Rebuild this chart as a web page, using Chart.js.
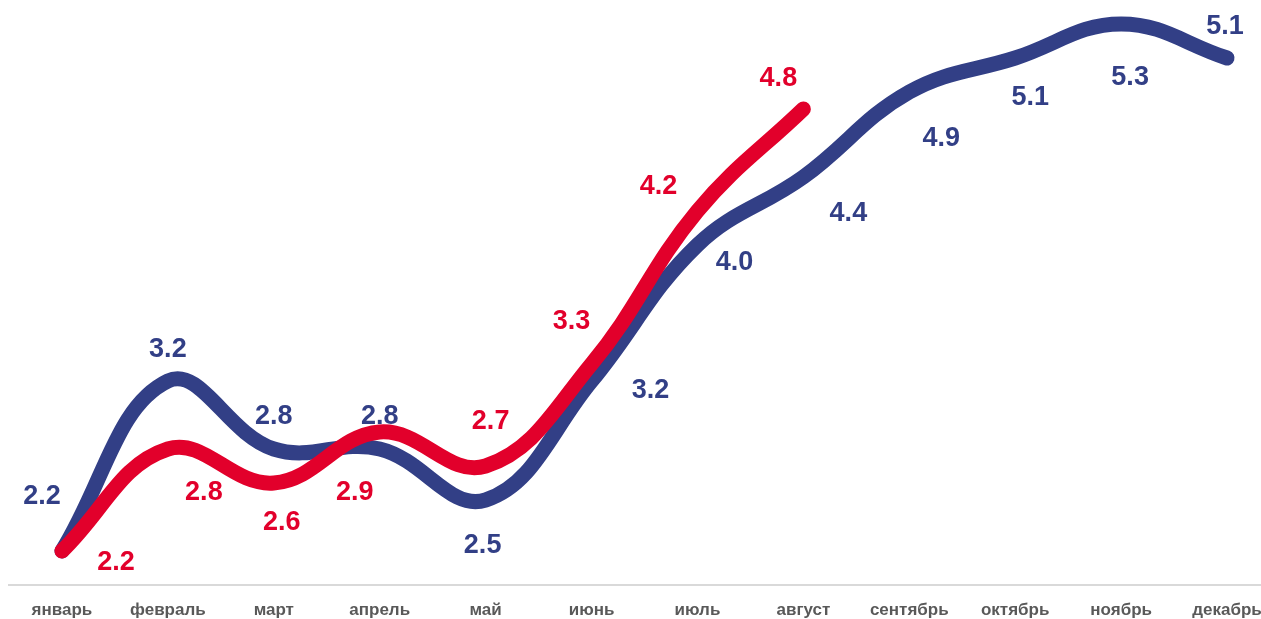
<!DOCTYPE html>
<html>
<head>
<meta charset="utf-8">
<script src="https://cdn.jsdelivr.net/npm/chart.js@4"></script>
<style>
  html, body { margin: 0; padding: 0; background: #fff; overflow: hidden; }
  #wrap { width: 1280px; height: 619px; position: relative; }
</style>
</head>
<body>
<div id="wrap"><canvas id="chart"></canvas></div>
<script>
const months = ["январь", "февраль", "март", "апрель", "май", "июнь", "июль", "август", "сентябрь", "октябрь", "ноябрь", "декабрь"];
const blueValues = [2.2, 3.2, 2.8, 2.8, 2.5, 3.2, 4.0, 4.4, 4.9, 5.1, 5.3, 5.1];
const redValues = [2.2, 2.8, 2.6, 2.9, 2.7, 3.3, 4.2, 4.8];

// where each value label sits relative to its point (px)
const blueLabelShift = [[-20, -54], [0, -31], [0, -32], [0, -32], [-3, 46], [59, 10], [37, 18], [45, 37], [32, 47], [15, 40], [9, 54], [-2, -31]];
const redLabelShift = [[54, 12], [36, 44], [8, 40], [-25, 61], [5, -44], [-20, -42], [-39, -24], [-25, -30]];

const BLUE = "#323F86";
const RED = "#E2002B";

const valueLabels = {
  id: "valueLabels",
  afterDatasetsDraw(chart) {
    const ctx = chart.ctx;
    ctx.save();
    ctx.font = "bold 27px 'Liberation Sans', Arial, sans-serif";
    ctx.textAlign = "center";
    ctx.textBaseline = "middle";
    chart.data.datasets.forEach((ds, i) => {
      const meta = chart.getDatasetMeta(i);
      ctx.fillStyle = ds.borderColor;
      meta.data.forEach((pt, j) => {
        const s = ds.labelShift[j];
        ctx.fillText(ds.data[j].toFixed(1), pt.x + s[0], pt.y + s[1]);
      });
    });
    ctx.restore();
  }
};

new Chart(document.getElementById("chart"), {
  type: "line",
  data: {
    labels: months,
    datasets: [
      {
        label: "red",
        data: redValues,
        borderColor: RED,
        labelShift: redLabelShift,
        borderWidth: 15,
        borderCapStyle: "round",
        borderJoinStyle: "round",
        pointRadius: 0,
        tension: 0.4,
        fill: false
      },
      {
        label: "blue",
        data: blueValues,
        borderColor: BLUE,
        labelShift: blueLabelShift,
        borderWidth: 15,
        borderCapStyle: "round",
        borderJoinStyle: "round",
        pointRadius: 0,
        tension: 0.4,
        fill: false
      }
    ]
  },
  options: {
    responsive: true,
    maintainAspectRatio: false,
    animation: false,
    layout: { padding: { left: 9, right: 0, top: 7, bottom: 0 } },
    plugins: { legend: { display: false }, tooltip: { enabled: false } },
    scales: {
      x: {
        offset: true,
        grid: { display: false, drawTicks: false },
        border: { display: true, color: "#D9D9D9", width: 2 },
        ticks: {
          padding: 15,
          color: "#595959",
          maxRotation: 0,
          autoSkip: false,
          font: { family: "'Liberation Sans', Arial, sans-serif", size: 17, weight: "bold" }
        },
        afterFit(scale) { scale.height = 34; }
      },
      y: {
        display: false,
        min: 2.0,
        max: 5.4
      }
    }
  },
  plugins: [valueLabels]
});
</script>
</body>
</html>
